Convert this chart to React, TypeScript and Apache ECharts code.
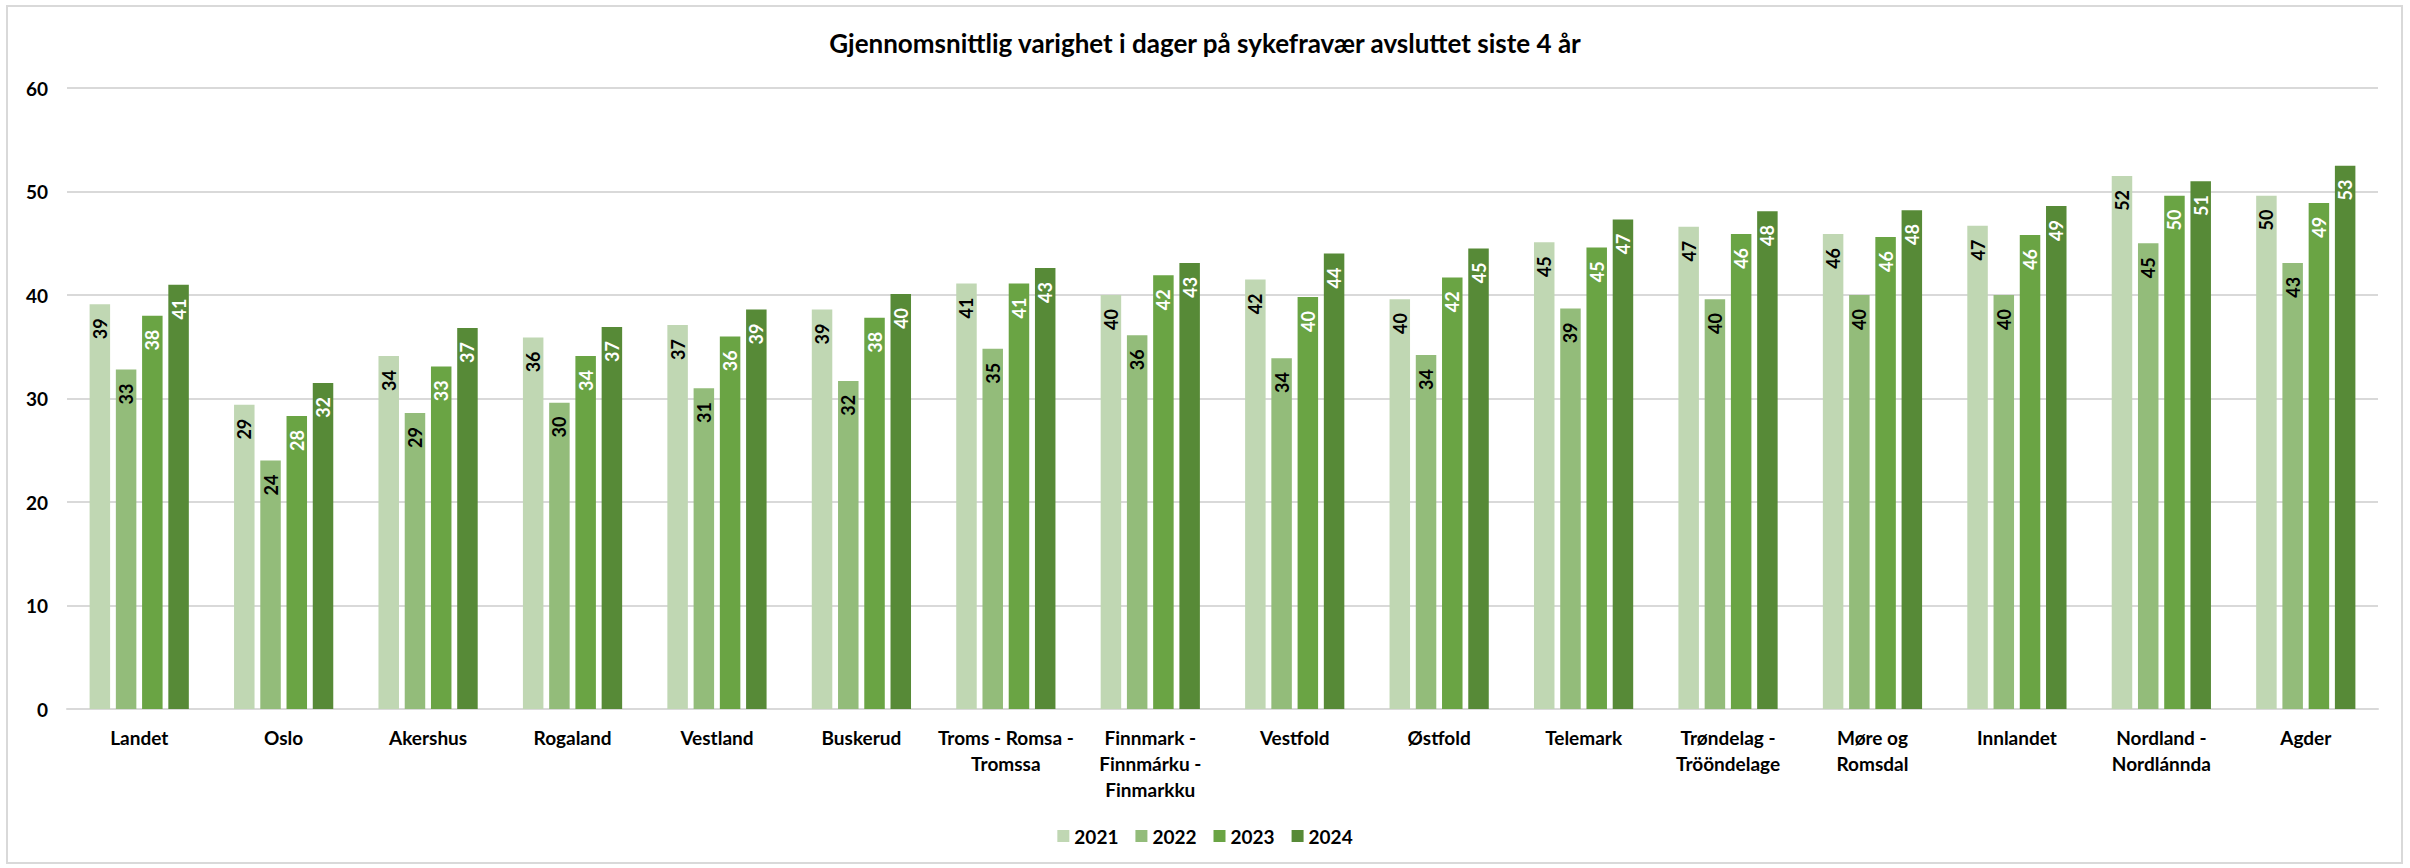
import React, { useEffect, useRef } from "react";
import * as echarts from "echarts";

const categories = [
  "Landet",
  "Oslo",
  "Akershus",
  "Rogaland",
  "Vestland",
  "Buskerud",
  "Troms - Romsa -\nTromssa",
  "Finnmark -\nFinnmárku -\nFinmarkku",
  "Vestfold",
  "Østfold",
  "Telemark",
  "Trøndelag -\nTrööndelage",
  "Møre og\nRomsdal",
  "Innlandet",
  "Nordland -\nNordlánnda",
  "Agder",
];

const years = ["2021", "2022", "2023", "2024"];

const v2021 = [39.1, 29.4, 34.1, 35.9, 37.1, 38.6, 41.1, 40.0, 41.5, 39.6, 45.1, 46.6, 45.9, 46.7, 51.5, 49.6];
const v2022 = [32.8, 24.0, 28.6, 29.6, 31.0, 31.7, 34.8, 36.1, 33.9, 34.2, 38.7, 39.6, 40.0, 40.0, 45.0, 43.1];
const v2023 = [38.0, 28.3, 33.1, 34.1, 36.0, 37.8, 41.1, 41.9, 39.8, 41.7, 44.6, 45.9, 45.6, 45.8, 49.6, 48.9];
const v2024 = [41.0, 31.5, 36.8, 36.9, 38.6, 40.1, 42.6, 43.1, 44.0, 44.5, 47.3, 48.1, 48.2, 48.6, 51.0, 52.5];

const seriesValues = [v2021, v2022, v2023, v2024];
const colors = ["#C0D7B3", "#93BC7A", "#6AA444", "#578A37"];
const labelColors = ["#000000", "#000000", "#FFFFFF", "#FFFFFF"];

const FONT = "Lato, 'Open Sans', sans-serif";

export default function App() {
  const ref = useRef<HTMLDivElement>(null);

  useEffect(() => {
    document.body.style.margin = "0";
    const chart = echarts.init(ref.current!, null, { renderer: "svg" });
    chart.setOption({
      animation: false,
      backgroundColor: "#ffffff",
      textStyle: { fontFamily: FONT },
      title: {
        text: "Gjennomsnittlig varighet i dager på sykefravær avsluttet siste 4 år",
        left: "center",
        top: 22,
        padding: 5,
        textStyle: {
          fontFamily: FONT,
          fontSize: 26,
          fontWeight: "bold",
          color: "#000000",
          lineHeight: 32,
        },
      },
      legend: {
        data: years,
        top: 821,
        left: "center",
        itemWidth: 12,
        itemHeight: 12,
        itemGap: 17,
        icon: "rect",
        textStyle: {
          fontFamily: FONT,
          fontSize: 19,
          fontWeight: "bold",
          color: "#000000",
          lineHeight: 20,
        },
      },
      grid: { left: 67, right: 32, top: 88, bottom: 159, containLabel: false },
      xAxis: {
        type: "category",
        data: categories,
        axisTick: { show: false },
        axisLine: { show: true, lineStyle: { color: "#D9D9D9", width: 2 } },
        axisLabel: {
          interval: 0,
          margin: 15,
          fontFamily: FONT,
          fontSize: 19,
          fontWeight: "bold",
          color: "#000000",
          lineHeight: 26,
        },
      },
      yAxis: {
        type: "value",
        min: 0,
        max: 60,
        interval: 10,
        axisLine: { show: false },
        axisTick: { show: false },
        splitLine: { lineStyle: { color: "#D9D9D9", width: 2 } },
        axisLabel: {
          margin: 19,
          fontFamily: FONT,
          fontSize: 19,
          fontWeight: "bold",
          color: "#000000",
        },
      },
      series: years.map((y, i) => ({
        name: y,
        type: "bar",
        data: seriesValues[i],
        barWidth: 20.5,
        barGap: "28%",
        itemStyle: { color: colors[i] },
        label: {
          show: true,
          position: "insideTop",
          rotate: 90,
          align: "right",
          verticalAlign: "middle",
          distance: 14,
          fontFamily: FONT,
          fontSize: 18,
          fontWeight: "bold",
          color: labelColors[i],
          formatter: (p: any) => String(Math.round(p.value)),
        },
      })),
      graphic: [
        {
          type: "rect",
          shape: { x: 7, y: 6, width: 2395, height: 857 },
          style: { fill: "none", stroke: "#D9D9D9", lineWidth: 2 },
          silent: true,
        },
      ],
    });
    return () => chart.dispose();
  }, []);

  return <div ref={ref} style={{ width: 2410, height: 868 }} />;
}
